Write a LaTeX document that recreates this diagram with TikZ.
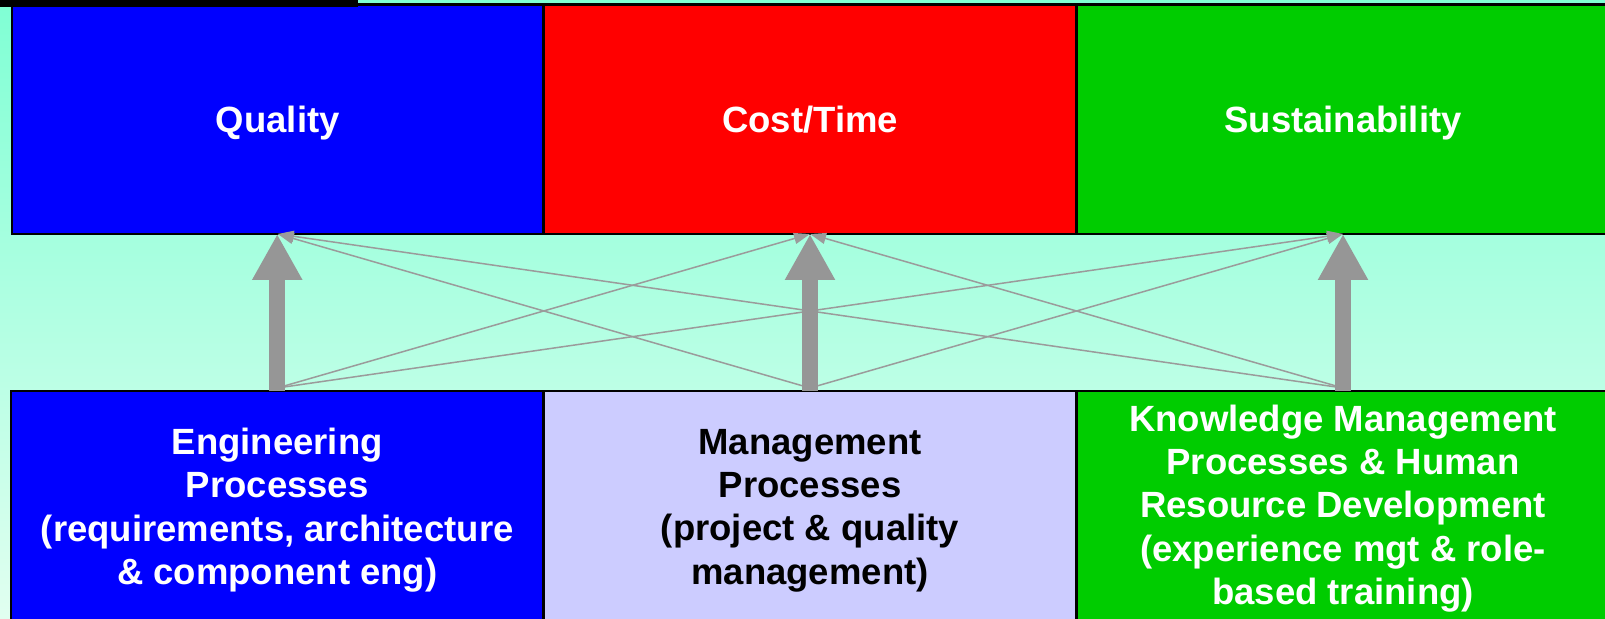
\documentclass[tikz,border=0pt]{standalone}
\usepackage{fontspec}
\setmainfont{Liberation Sans}
\usetikzlibrary{arrows.meta}
\definecolor{bgtop}{RGB}{127,255,212}
\definecolor{bgbot}{RGB}{225,255,240}
\definecolor{goalgreen}{RGB}{0,204,0}
\definecolor{lavenderbox}{RGB}{204,204,255}
\definecolor{arrowgray}{RGB}{150,150,150}
\definecolor{linkgray}{RGB}{155,155,155}
\begin{document}
\begin{tikzpicture}[x=1pt,y=1pt,
  panel/.style={draw=black, line width=2.5pt, rectangle, inner sep=0pt, outer sep=0pt,
    align=center, font=\bfseries\fontsize{36.5}{43.3}\selectfont},
  goal/.style={panel, minimum height=229.5pt, text height=26pt, text depth=0pt},
  area/.style={panel},
  lift/.style={draw=arrowgray, line width=16pt, -{Triangle[length=46pt,width=47pt]}},
  link/.style={draw=linkgray, line width=1.5pt, -{Triangle[length=16pt,width=11pt]}}]
\useasboundingbox (0,0) rectangle (1605,618);
% backdrop
\shade[top color=bgtop, bottom color=bgbot] (0,0) rectangle (1605,618);

% goals
\node[goal, fill=blue, text=white, minimum width=531.5pt] (q) at (277.75,498.75) {Quality};
\node[goal, fill=red, text=white, minimum width=533pt] (c) at (810,498.75) {Cost/Time};
\node[goal, fill=goalgreen, text=white, minimum width=533pt] (s) at (1343,498.75) {Sustainability};

% process areas (top edges all at y=227, running off the bottom of the page)
\node[area, fill=blue, text=white, minimum width=532.5pt, minimum height=238pt] (eng) at (277.25,108)
  {Engineering\\Processes\\(requirements, architecture\\\& component eng)};
\node[area, fill=lavenderbox, text=black, minimum width=533pt, minimum height=239pt] (mgt) at (810,107.5)
  {Management\\Processes\\(project \& quality\\management)};
\node[area, fill=goalgreen, text=white, minimum width=533pt, minimum height=235pt] (km) at (1343,109.5)
  {Knowledge Management\\Processes \& Human\\Resource Development\\(experience mgt \& role-\\based training)};

% start points of the cross links
\coordinate (engtop) at ([yshift=3pt]eng.north);
\coordinate (mgttop) at ([yshift=3pt]mgt.north);
\coordinate (kmtop) at ([yshift=3pt]km.north);

% cross links
\draw[link] (engtop) -- (c.south);
\draw[link] (engtop) -- (s.south);
\draw[link] (mgttop) -- (q.south);
\draw[link] (mgttop) -- (s.south);
\draw[link] (kmtop) -- (q.south);
\draw[link] (kmtop) -- (c.south);

% main contributions
\draw[lift] (eng.north) -- (eng.north |- q.south);
\draw[lift] (mgt.north) -- (c.south);
\draw[lift] (km.north) -- (s.south);

% top-left bar
\fill[black] (0,611) rectangle (358,618);
\end{tikzpicture}
\end{document}
